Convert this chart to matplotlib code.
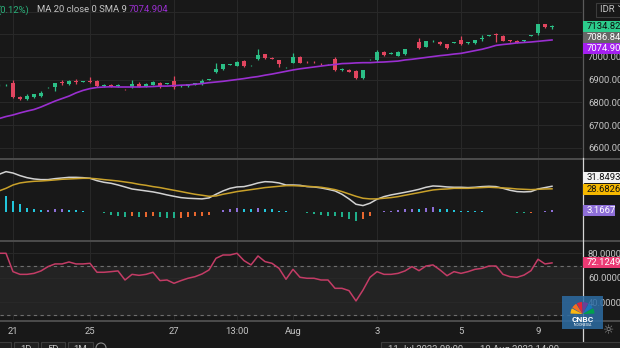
import matplotlib
matplotlib.use("Agg")
import matplotlib.pyplot as plt
from matplotlib.patches import Rectangle, Wedge, Circle
from matplotlib.lines import Line2D
from matplotlib.transforms import IdentityTransform, blended_transform_factory
import numpy as np

plt.rcParams['font.family'] = ['Roboto', 'DejaVu Sans']

W, H = 620, 348
BG = '#181818'
GRID = '#282828'
TXT = '#c4c4c4'
UP = '#2bbf86'
DOWN = '#e2455f'
MA_COL = '#9a2fd0'
FS = 6.8

# --- hourly candles, IDR ---
opens = [6876, 6876, 6886, 6825, 6815, 6823, 6830, 6866, 6867, 6889,
         6881, 6895, 6890, 6895, 6896, 6872, 6878, 6872, 6860, 6867,
         6881, 6872, 6878, 6887, 6883, 6894, 6873, 6872, 6877, 6880,
         6900, 6933, 6946, 6967, 6962, 6982, 6963, 6991, 7012, 6995,
         6987, 6954, 6975, 7001, 6978, 6978, 6970, 6968, 6991, 6944,
         6945, 6940, 6908, 6990, 6987, 7023, 7015, 7006, 7013, 7052,
         7065, 7045, 7069, 7067, 7057, 7063, 7075, 7062, 7060, 7081,
         7092, 7100, 7092, 7072, 7072, 7070, 7092, 7104, 7144, 7132]
closes = [6878, 6878, 6824, 6815, 6828, 6836, 6843, 6868, 6884, 6885,
          6896, 6892, 6892, 6892, 6872, 6874, 6869, 6878, 6858, 6880,
          6869, 6881, 6890, 6867, 6885, 6867, 6875, 6880, 6884, 6895,
          6902, 6947, 6968, 6969, 6979, 6962, 6965, 7009, 6994, 6993,
          6969, 6956, 7001, 6975, 6976, 6976, 6968, 6970, 6943, 6946,
          6934, 6906, 6943, 6992, 7023, 7008, 7017, 7021, 7034, 7054,
          7041, 7070, 7071, 7056, 7038, 7065, 7056, 7064, 7075, 7083,
          7094, 7098, 7071, 7070, 7063, 7072, 7094, 7144, 7131, 7134.82]
highs = [6880, 6880, 6899, 6828, 6836, 6839, 6852, 6870, 6886, 6899,
         6899, 6903, 6893, 6911, 6898, 6880, 6880, 6880, 6861, 6899,
         6888, 6884, 6893, 6889, 6886, 6916, 6879, 6882, 6886, 6902,
         6903, 6972, 6970, 6970, 6982, 6987, 6966, 7034, 7015, 6998,
         6989, 6957, 7016, 7003, 6982, 6982, 6973, 6971, 7001, 6952,
         6947, 6942, 6945, 6993, 7031, 7026, 7020, 7026, 7036, 7055,
         7082, 7072, 7076, 7069, 7059, 7066, 7092, 7068, 7077, 7097,
         7095, 7107, 7095, 7075, 7074, 7077, 7095, 7146, 7147, 7141]
lows = [6874, 6874, 6820, 6812, 6811, 6820, 6823, 6864, 6852, 6878,
        6878, 6881, 6889, 6885, 6870, 6866, 6867, 6870, 6857, 6862,
        6867, 6870, 6876, 6865, 6882, 6860, 6870, 6870, 6875, 6878,
        6899, 6931, 6944, 6966, 6960, 6957, 6962, 6989, 6992, 6990,
        6957, 6953, 6972, 6972, 6972, 6972, 6965, 6967, 6938, 6940,
        6932, 6903, 6905, 6989, 6977, 7005, 7012, 7003, 7011, 7051,
        7034, 7043, 7066, 7054, 7034, 7062, 7054, 7058, 7058, 7070,
        7091, 7067, 7069, 7067, 7061, 7066, 7091, 7097, 7129, 7122]
ma20 = [6729, 6738, 6745, 6754, 6762, 6769, 6780, 6793, 6806, 6817,
        6828, 6842, 6853, 6861, 6866, 6868, 6869, 6868, 6868, 6868,
        6868, 6869, 6870, 6872, 6872, 6874, 6876, 6877, 6880, 6883,
        6887, 6890, 6893, 6897, 6901, 6905, 6910, 6914, 6920, 6925,
        6931, 6937, 6943, 6948, 6952, 6956, 6960, 6964, 6967, 6971,
        6972, 6974, 6975, 6975, 6977, 6978, 6980, 6982, 6987, 6990,
        6994, 6998, 7002, 7006, 7009, 7013, 7016, 7022, 7028, 7034,
        7042, 7051, 7055, 7058, 7062, 7064, 7066, 7069, 7072, 7074.904]
prev_close_tag = 7086.84
price_ticks = [6600, 6700, 6800, 6900, 7000]

# --- MACD ---
macd = [46.5, 49.8, 48.1, 44.9, 42.4, 40.8, 40.0, 40.0, 41.2, 42.0,
        42.8, 42.8, 42.4, 41.6, 38.7, 36.7, 35.5, 33.4, 31.0, 28.5,
        27.3, 26.1, 24.9, 23.2, 21.2, 19.5, 17.9, 17.1, 16.7, 16.3,
        17.5, 22.0, 26.1, 29.3, 31.0, 31.4, 33.4, 35.9, 37.5, 37.1,
        35.9, 33.4, 33.4, 33.0, 31.4, 31.0, 29.8, 28.1, 26.1, 22.0,
        16.3, 9.7, 8.1, 11.0, 15.9, 19.1, 21.2, 22.8, 24.4, 26.1,
        28.1, 30.6, 32.2, 31.8, 31.0, 30.6, 30.6, 30.2, 30.6, 31.4,
        31.8, 31.4, 29.3, 26.9, 25.3, 24.9, 25.3, 28.5, 30.2, 31.8493]
signal = [26.1, 29.3, 33.4, 35.9, 37.1, 37.9, 38.3, 38.9, 39.6, 40.4,
          40.8, 41.2, 41.6, 41.6, 41.0, 40.0, 39.2, 38.3, 37.1, 35.9,
          34.2, 33.0, 31.4, 30.2, 28.5, 26.9, 25.3, 23.6, 22.0, 20.8,
          19.5, 19.9, 22.0, 23.6, 25.3, 26.5, 27.7, 28.9, 30.2, 31.0,
          31.8, 32.6, 32.6, 32.2, 31.8, 31.2, 30.6, 29.3, 27.7, 25.3,
          22.4, 19.5, 17.1, 16.3, 16.3, 17.1, 17.9, 19.1, 20.8, 22.4,
          24.0, 25.7, 27.3, 28.1, 28.5, 29.3, 29.3, 29.3, 29.8, 30.2,
          30.6, 30.2, 29.8, 29.3, 28.5, 28.1, 27.7, 28.1, 28.5, 28.6826]
hist = [22.0, 20.4, 14.3, 10.2, 5.7, 4.1, 2.4, 2.9, 3.3, 3.5,
        2.9, 2.4, 1.6, 0.8, -0.4, -1.6, -2.9, -4.1, -5.7, -5.3,
        -6.1, -5.7, -5.3, -6.1, -6.9, -7.3, -6.9, -6.1, -5.3, -4.5,
        -3.3, 0.8, 2.4, 3.7, 5.3, 4.5, 3.7, 4.9, 4.1, 3.3,
        2.0, 1.2, 0.8, 0.4, -0.8, -2.5, -3.3, -4.1, -5.3, -6.5,
        -7.8, -11.4, -8.2, -4.9, 0.4, 1.2, 1.6, 2.4, 3.7, 4.5,
        4.1, 5.3, 6.1, 4.5, 3.3, 2.4, 2.0, 1.6, 1.2, 1.0,
        0.8, 0.6, 0.4, -0.4, -0.8, -1.2, -0.8, 0.4, 1.6, 3.1667]

# --- RSI 14 ---
rsi = [80.0, 80.0, 65.0, 62.8, 62.8, 63.6, 65.6, 69.1, 71.3, 71.3,
       72.9, 71.3, 71.3, 71.8, 64.5, 64.5, 65.0, 65.6, 58.2, 62.8,
       62.0, 62.8, 64.5, 57.7, 58.2, 55.5, 57.7, 59.6, 60.9, 63.1,
       66.4, 75.9, 78.6, 78.6, 80.0, 74.0, 70.5, 77.8, 73.2, 71.8,
       67.7, 58.8, 66.9, 60.4, 59.6, 59.6, 58.2, 58.2, 51.4, 51.4,
       49.5, 41.1, 50.0, 60.4, 65.0, 62.8, 62.8, 63.6, 65.6, 69.1,
       65.8, 69.6, 70.5, 66.4, 61.7, 65.0, 63.6, 65.0, 66.9, 67.7,
       69.6, 69.6, 62.8, 60.9, 60.4, 62.2, 65.8, 75.1, 71.3, 72.1249]

tick_idx = [2, 13, 25, 34, 42, 54, 66, 77]
tick_lbl = ['21', '25', '27', '13:00', 'Aug', '3', '5', '9']

k = np.arange(len(closes))
o = np.array(opens)
c = np.array(closes)

fig = plt.figure(figsize=(W / 100, H / 100), dpi=100, facecolor=BG)
ID = IdentityTransform()


def box(x0, y0, x1, y1):
    # pixel box, origin top-left -> figure fraction rect
    return [x0 / W, 1 - y1 / H, (x1 - x0) / W, (y1 - y0) / H]


ax1 = fig.add_axes(box(0, 0, 582, 158))
ax2 = fig.add_axes(box(0, 160, 582, 240))
ax3 = fig.add_axes(box(0, 242, 582, 320))

for ax in (ax1, ax2, ax3):
    ax.set_facecolor(BG)
    ax.set_xlim(1 / 7, 583 / 7)
    for s in ax.spines.values():
        s.set_visible(False)
    ax.set_xticks([])
    for t in tick_idx:
        ax.axvline(t, color=GRID, lw=0.8, zorder=0)
    ax.tick_params(axis='y', length=0, labelsize=FS, labelcolor=TXT, pad=4.3,
                   left=False, labelleft=False, right=False, labelright=True)

# price panel
ax1.set_ylim(6555.6, 7250.8)
ax1.set_yticks(price_ticks)
ax1.set_yticklabels(['%.3f' % v for v in price_ticks])
for v in range(6600, 7300, 100):
    ax1.axhline(v, color=GRID, lw=0.8, zorder=0)
col = np.where(c >= o, UP, DOWN)
ax1.vlines(k, lows, highs, colors=col, lw=0.9, zorder=2)
ax1.bar(k, np.maximum(np.abs(c - o), 3), bottom=np.minimum(o, c), width=0.6,
        color=col, zorder=3)
ax1.plot(k, ma20, color=MA_COL, lw=1.2, zorder=4)

# MACD panel
ax2.set_ylim(-34.2, 64.1)
ax2.set_yticks([])
hcol = []
for i, v in enumerate(hist):
    prev = hist[i - 1] if i else v
    if v >= 0:
        hcol.append('#22c6dc' if v < prev else '#8e6fd8')
    else:
        hcol.append('#1fae8a' if v < prev else '#e8672f')
ax2.bar(k, hist, width=0.3, color=hcol, zorder=2)
ax2.plot(k, macd, color='#d2d2d2', lw=1.1, zorder=3)
ax2.plot(k, signal, color='#c9a12a', lw=1.1, zorder=3)

# RSI panel
ax3.set_ylim(25.55, 89.2)
ax3.set_yticks([40, 60, 80])
ax3.set_yticklabels(['40.0000', '60.0000', '80.0000'])
ax3.axhspan(30, 70, color='#232323', zorder=0)
for v in (40, 60, 80):
    ax3.axhline(v, color=GRID, lw=0.8, zorder=0.5)
for v in (30, 70):
    ax3.axhline(v, color='#6e6e6e', lw=0.8, dashes=(3, 3), zorder=1)
ax3.plot(k, rsi, color='#c43c66', lw=1.1, zorder=3)

# panel separators
for y in (158, 240, 320):
    fig.add_artist(Rectangle((0, H - y - 2), W, 2, transform=ID,
                             fc='#4a4a4a', ec='none', zorder=6))
fig.add_artist(Line2D([582.5, 582.5], [H - 158, H], transform=ID,
                      color='#5a5a5a', lw=0.9, zorder=6))
fig.add_artist(Line2D([582.5, 582.5], [0, H - 158], transform=ID,
                      color='#d6d6d6', lw=0.9, zorder=6))


def tag(ax, value, label, fc, tc, dy=0.0, x1=W + 2):
    yd = ax.transData.transform((0, value))[1] - dy
    fig.add_artist(Rectangle((583, yd - 5.5), x1 - 583, 11, transform=ID,
                             fc=fc, ec='none', zorder=10))
    fig.text(587, yd, label, transform=ID, color=tc, fontsize=FS,
             ha='left', va='center', zorder=11)


tag(ax1, closes[-1], '%.3f' % closes[-1], '#2ccc8c', '#101010')
tag(ax1, prev_close_tag, '%.3f' % prev_close_tag, '#666666', '#ffffff')
tag(ax1, ma20[-1], '%.3f' % ma20[-1], '#a41ff0', '#ffffff', dy=8.3)
tag(ax2, macd[-1], '%.4f' % macd[-1], '#f2f2f2', '#101010', dy=-8.6)
tag(ax2, signal[-1], '%.4f' % signal[-1], '#f5b800', '#101010', dy=1.0)
tag(ax2, hist[-1], '%.4f' % hist[-1], '#8e6fd8', '#ffffff', dy=0.5, x1=615)
tag(ax3, rsi[-1], '%.4f' % rsi[-1], '#ec3a74', '#ffffff')

# currency selector
fig.add_artist(Rectangle((596, H - 17), 30, 14, transform=ID, fc=BG,
                         ec='#3c3c3c', lw=0.8, zorder=10))
fig.text(600, H - 10, 'IDR \u02c5', transform=ID, color=TXT, fontsize=FS,
         ha='left', va='center', zorder=11)

# legend line
fig.text(29, H - 10, '(0.12%)', transform=ID, color='#2ab27b', fontsize=FS,
         ha='right', va='center')
fig.text(37, H - 10, 'MA 20 close 0 SMA 9', transform=ID, color=TXT,
         fontsize=FS, ha='left', va='center')
fig.text(129, H - 10, '%.3f' % ma20[-1], transform=ID, color=MA_COL,
         fontsize=FS, ha='left', va='center')

# time axis
tt = blended_transform_factory(ax3.transData, fig.transFigure)
for t, lbl in zip(tick_idx, tick_lbl):
    fig.text(t, 1 - 331 / H, lbl, transform=tt, color=TXT, fontsize=FS,
             ha='center', va='center')
fig.text(609, H - 331, '\u263c', transform=ID, color='#9a9a9a', fontsize=9,
         ha='center', va='center', family='DejaVu Sans', zorder=12)

# bottom toolbar
for x0, x1, lbl in [(-4, 11, ''), (14, 38, '1D'), (41, 65, '5D'), (68, 93, '1M')]:
    fig.add_artist(Rectangle((x0, H - 356), x1 - x0, 14, transform=ID,
                             fc='#1f1f1f', ec='#3d3d3d', lw=0.8, zorder=10))
    fig.text((x0 + x1) / 2, H - 349, lbl, transform=ID, color=TXT,
             fontsize=FS, ha='center', va='center', zorder=11)
fig.add_artist(Circle((101, H - 348), 5, transform=ID, fc='none',
                      ec='#8a8a8a', lw=0.8, zorder=11))
fig.add_artist(Rectangle((381, H - 356), 250, 14, transform=ID,
                         fc='#1f1f1f', ec='#3d3d3d', lw=0.8, zorder=10))
fig.text(388, H - 349, '11 Jul 2023 08:00  \u2014  10 Aug 2023 14:00',
         transform=ID, color=TXT, fontsize=FS, ha='left', va='center',
         zorder=11)

# logo
fig.add_artist(Rectangle((562, H - 329), 41, 33, transform=ID,
                         fc='#2d6ca3', ec='none', alpha=0.85, zorder=12))
feathers = ['#00a14b', '#1b75bc', '#6a3f98', '#e0243b', '#f37021', '#fcb711']
for i, fc in enumerate(feathers):
    fig.add_artist(Wedge((582.5, H - 314), 12, i * 30 + 2, i * 30 + 28,
                         transform=ID, fc=fc, ec='none', zorder=13))
fig.text(582.5, H - 319.5, 'CNBC', transform=ID, color='white', fontsize=6,
         weight='bold', ha='center', va='center', zorder=14)
fig.text(582.5, H - 325, 'INDONESIA', transform=ID, color='white',
         fontsize=2.6, ha='center', va='center', zorder=14)

fig.savefig('out.png', dpi=100, facecolor=BG)
